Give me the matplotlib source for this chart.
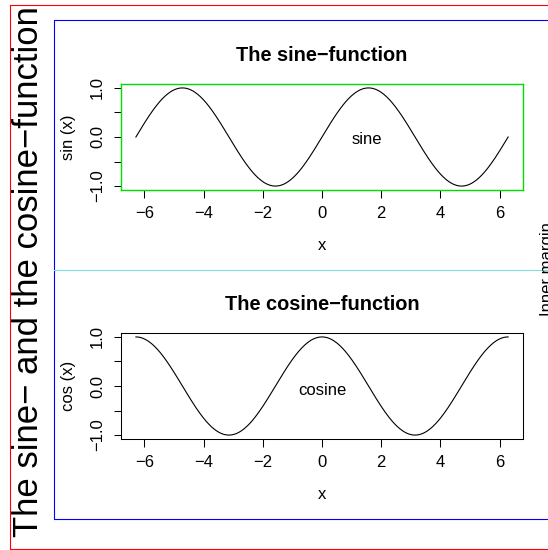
import numpy as np
import matplotlib
matplotlib.use("Agg")
import matplotlib.pyplot as plt
from matplotlib.lines import Line2D

plt.rcParams['font.family'] = ['Liberation Sans', 'DejaVu Sans']

# data
x_start, x_end = -2 * np.pi, 2 * np.pi
x_ticks = [-6, -4, -2, 0, 2, 4, 6]
y_ticks = [-1.0, -0.5, 0.0, 0.5, 1.0]
y_tick_labels = ['−1.0', '', '0.0', '', '1.0']
panel_titles = ['The sine−function', 'The cosine−function']
panel_ylabels = ['sin (x)', 'cos (x)']
panel_funcs = [np.sin, np.cos]
curve_labels = ['sine', 'cosine']
curve_label_x = [1.5, 0.0]
curve_label_y = [-0.15, -0.19]
box_colors = ['#00dd00', 'black']
outer_title = 'The sine− and the cosine−function'
inner_note = 'Inner margin'

W, H = 548, 550


def fx(px):
    return px / W


def fy(py):
    return 1 - py / H


fig = plt.figure(figsize=(W / 100, H / 100), dpi=100)

x = np.linspace(x_start, x_end, 400)
span = x_end - x_start
left, right, height = 121, 523, 106
tops = [84, 333]

for i in range(2):
    top = tops[i]
    bottom = top + height
    ax = fig.add_axes([fx(left), fy(bottom), (right - left) / W, height / H])
    ax.plot(x, panel_funcs[i](x), color='black', lw=0.8)
    ax.set_xlim(x_start - 0.04 * span, x_end + 0.04 * span)
    ax.set_ylim(-1.08, 1.08)
    ax.set_xticks(x_ticks)
    ax.set_xticklabels([str(t).replace('-', '−') for t in x_ticks])
    ax.set_yticks(y_ticks)
    ax.set_yticklabels(y_tick_labels, rotation=90, va='center')
    ax.tick_params(direction='out', length=5.4, width=0.75, labelsize=12, pad=6)
    for sp in ax.spines.values():
        sp.set_color(box_colors[i])
        sp.set_linewidth(1.0 if i == 0 else 0.75)
    ax.text(curve_label_x[i], curve_label_y[i], curve_labels[i],
            ha='center', va='baseline', fontsize=12)

    fig.text(fx(322), fy(top - 23), panel_titles[i], ha='center', va='baseline',
             fontsize=14.4, fontweight='bold')
    fig.text(fx(322), fy(bottom + 60), 'x', ha='center', va='baseline', fontsize=12)
    fig.text(fx(72.5), fy(top + 53), panel_ylabels[i], rotation=90,
             rotation_mode='anchor', ha='center', va='baseline', fontsize=12)

# outer and inner margin frames
fig.add_artist(Line2D([fx(560), fx(10), fx(10), fx(560)],
                      [fy(5), fy(5), fy(549), fy(549)], color='red', lw=0.8))
fig.add_artist(Line2D([fx(560), fx(54), fx(54), fx(560)],
                      [fy(20), fy(20), fy(519), fy(519)], color='blue', lw=0.8))
fig.add_artist(Line2D([fx(54), fx(560)], [fy(269.5), fy(269.5)],
                      color='#7fdfdf', lw=0.8))

fig.text(fx(38), fy(271.5), outer_title, rotation=90, rotation_mode='anchor',
         ha='center', va='baseline', fontsize=25)
# partly outside the canvas, as in the reference
fig.text(fx(552), fy(269.5), inner_note, rotation=90, rotation_mode='anchor',
         ha='center', va='baseline', fontsize=12)

fig.savefig('out.png', dpi=100)
